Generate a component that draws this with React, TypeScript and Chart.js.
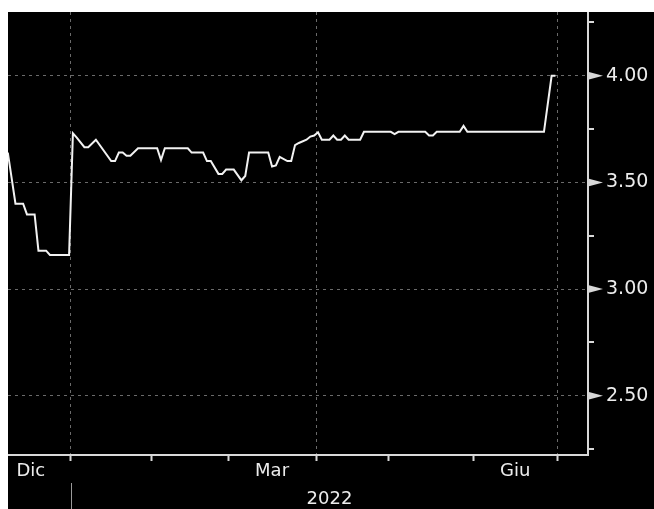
import React, { useEffect, useRef } from 'react';
import { Chart, registerables } from 'chart.js';

Chart.register(...registerables);

// x = trading-day index (0 = first trading day of Jan 2022)
const dayIndex = [-17, -15, -13, -12, -10, -9, -7, -6, -1, 0, 1, 3, 4, 6, 10, 11, 12, 13, 14, 15, 17, 22, 23, 24, 30, 31, 34, 35, 36, 38, 39, 40, 42, 44, 45, 46, 51, 52, 53, 54, 56, 57, 58, 59, 61, 62, 63, 64, 65, 67, 68, 69, 70, 71, 72, 75, 76, 83, 84, 85, 92, 93, 94, 95, 101, 102, 103, 123, 125, 126];
const rateValues = [3.64, 3.40, 3.40, 3.35, 3.35, 3.18, 3.18, 3.16, 3.16, 3.73, 3.71, 3.665, 3.665, 3.70, 3.60, 3.60, 3.64, 3.64, 3.625, 3.625, 3.66, 3.66, 3.605, 3.66, 3.66, 3.64, 3.64, 3.60, 3.60, 3.54, 3.54, 3.56, 3.56, 3.51, 3.53, 3.64, 3.64, 3.575, 3.58, 3.62, 3.60, 3.60, 3.675, 3.685, 3.70, 3.715, 3.72, 3.735, 3.70, 3.70, 3.72, 3.70, 3.70, 3.72, 3.70, 3.70, 3.737, 3.737, 3.727, 3.737, 3.737, 3.72, 3.72, 3.737, 3.737, 3.765, 3.737, 3.737, 4.00, 4.00];

// month boundaries (Jan 1 .. Jul 1) in trading-day index
const monthBoundaries = [-0.5, 20.5, 40.5, 63.5, 82.5, 104.5, 126.5];
const quarterBoundaries = [-0.5, 63.5, 126.5];
const monthLabelPos = [-11, 52, 115.5];
const monthLabels = ['Dic', 'Mar', 'Giu'];
const yearLabel = '2022';
const yearStart = -0.5;

const yTicks = [2.25, 2.5, 2.75, 3.0, 3.25, 3.5, 3.75, 4.0, 4.25];
const yMajor = [2.5, 3.0, 3.5, 4.0];

const X_MIN = -16.95;
const X_MAX = 134.5;
const Y_MIN = 2.222;
const Y_MAX = 4.299;

const FONT = '"DejaVu Sans", Verdana, sans-serif';
const TEXT = '#ececec';
const AXIS = '#d8d8d8';
const GRID = '#6a6a6a';

const decor = {
  id: 'decor',
  afterDraw(chart: any) {
    const ctx = chart.ctx;
    const y = chart.scales.y;
    const x = chart.scales.x;
    const right = chart.chartArea.right;
    ctx.save();
    ctx.fillStyle = AXIS;
    ctx.strokeStyle = AXIS;
    for (const v of yTicks) {
      const py = y.getPixelForValue(v);
      if (yMajor.includes(v)) {
        ctx.beginPath();
        ctx.moveTo(right, py - 4);
        ctx.lineTo(right + 15, py);
        ctx.lineTo(right, py + 4);
        ctx.closePath();
        ctx.fill();
      } else {
        ctx.lineWidth = 2;
        ctx.beginPath();
        ctx.moveTo(right, Math.round(py));
        ctx.lineTo(right + 6, Math.round(py));
        ctx.stroke();
      }
    }
    // year separator and label
    const xs = Math.round(x.getPixelForValue(yearStart)) + 0.5;
    const h = chart.height;
    ctx.strokeStyle = '#9a9a9a';
    ctx.lineWidth = 1;
    ctx.beginPath();
    ctx.moveTo(xs, h - 26);
    ctx.lineTo(xs, h);
    ctx.stroke();
    ctx.fillStyle = TEXT;
    ctx.font = '18px ' + FONT;
    ctx.textAlign = 'center';
    ctx.textBaseline = 'middle';
    ctx.fillText(yearLabel, (x.getPixelForValue(yearStart) + right) / 2, h - 10);
    ctx.restore();
  },
};

export default function App() {
  const ref = useRef<HTMLCanvasElement>(null);
  useEffect(() => {
    if (!ref.current) return;
    const data = dayIndex.map((d, i) => ({ x: d, y: rateValues[i] }));
    const xTickVals = [...monthBoundaries, ...monthLabelPos].sort((a, b) => a - b);
    const chart = new Chart(ref.current, {
      type: 'line',
      data: {
        datasets: [
          {
            data,
            borderColor: '#f2f2f2',
            borderWidth: 2,
            pointRadius: 0,
            tension: 0,
            fill: false,
          },
        ],
      },
      options: {
        animation: false,
        responsive: false,
        layout: { padding: 0 },
        plugins: { legend: { display: false }, tooltip: { enabled: false } },
        scales: {
          x: {
            type: 'linear',
            min: X_MIN,
            max: X_MAX,
            afterBuildTicks: (s: any) => {
              s.ticks = xTickVals.map((v) => ({ value: v }));
            },
            afterFit: (s: any) => {
              s.height = 54;
              s.paddingLeft = 0;
              s.paddingRight = 0;
            },
            ticks: {
              autoSkip: false,
              maxRotation: 0,
              padding: 0,
              color: TEXT,
              font: { family: FONT, size: 18 },
              callback: (v: any) => {
                const i = monthLabelPos.indexOf(Number(v));
                return i >= 0 ? monthLabels[i] : '';
              },
            },
            grid: {
              color: (c: any) => (c.tick && quarterBoundaries.includes(c.tick.value) ? GRID : 'rgba(0,0,0,0)'),
              lineWidth: 1,
              tickLength: 6,
              tickWidth: 2,
              tickColor: (c: any) => (c.tick && monthBoundaries.includes(c.tick.value) ? AXIS : 'rgba(0,0,0,0)'),
            },
            border: { display: true, color: AXIS, width: 2, dash: [3, 4] },
          },
          y: {
            type: 'linear',
            position: 'right',
            min: Y_MIN,
            max: Y_MAX,
            afterBuildTicks: (s: any) => {
              s.ticks = yTicks.map((v) => ({ value: v }));
            },
            afterFit: (s: any) => {
              s.width = 66;
              s.paddingTop = 0;
              s.paddingBottom = 0;
            },
            ticks: {
              padding: 2,
              color: TEXT,
              font: { family: FONT, size: 19 },
              callback: (v: any) => (yMajor.includes(Number(v)) ? Number(v).toFixed(2) : ''),
            },
            grid: {
              color: (c: any) => (c.tick && yMajor.includes(c.tick.value) ? GRID : 'rgba(0,0,0,0)'),
              lineWidth: 1,
              tickLength: 16,
              tickColor: 'rgba(0,0,0,0)',
            },
            border: { display: true, color: AXIS, width: 2, dash: [3, 4] },
          },
        },
      },
      plugins: [decor],
    });
    return () => chart.destroy();
  }, []);
  return (
    <div style={{ position: 'absolute', left: 8, top: 12, width: 646, height: 497, background: '#000' }}>
      <canvas ref={ref} width={646} height={497} style={{ display: 'block' }} />
    </div>
  );
}
